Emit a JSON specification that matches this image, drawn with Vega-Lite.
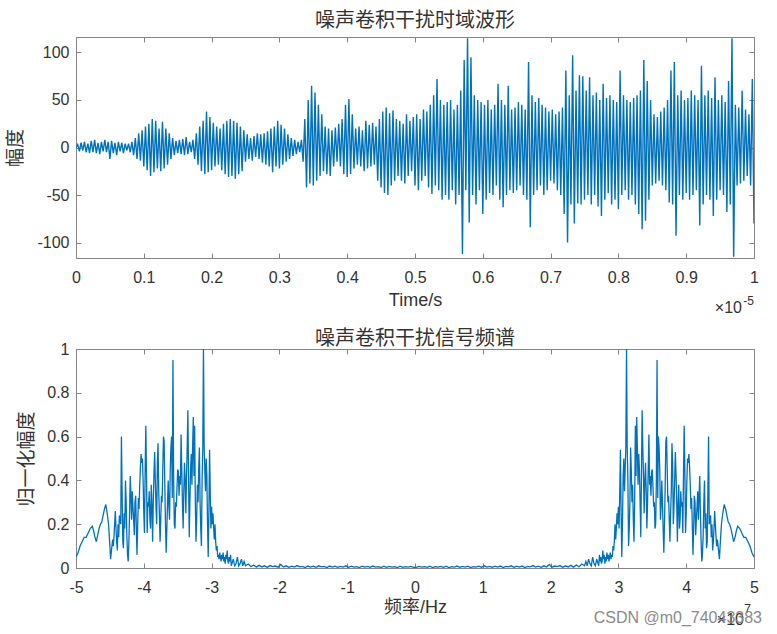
{
"$schema":"https://vega.github.io/schema/vega-lite/v6.json",
"autosize":{"type":"pad"},
"padding":{"left":6,"top":10,"right":5,"bottom":5},
"background":"white",
"bounds":"flush",
"spacing":91,
"config":{
 "font":"Liberation Sans, Noto Sans CJK SC",
 "view":{"stroke":"#858585","strokeWidth":1},
 "axis":{"grid":false,"domain":false,"tickColor":"#858585","tickSize":-5,"labelFontSize":16,"labelColor":"#333333","labelFont":"Liberation Sans","titleFontSize":18,"titleColor":"#333333","titleFontWeight":"normal","labelFlush":false,"labelOverlap":false},
 "title":{"fontSize":20,"font":"Noto Sans CJK SC","fontWeight":"normal","color":"#333333","anchor":"middle","offset":6}
},
"datasets":{
"wave":[
{"t":0,"v":0},{"t":0.0025,"v":3},{"t":0.005,"v":-4},{"t":0.0075,"v":5},{"t":0.01,"v":-3},{"t":0.0125,"v":6},{"t":0.015,"v":-5},{"t":0.0175,"v":4},{"t":0.02,"v":-6},{"t":0.0225,"v":7},
{"t":0.025,"v":-5},{"t":0.0275,"v":8},{"t":0.03,"v":-6},{"t":0.0325,"v":5},{"t":0.035,"v":-7},{"t":0.0375,"v":6},{"t":0.04,"v":-4},{"t":0.0425,"v":8},{"t":0.045,"v":-5},{"t":0.0475,"v":6},
{"t":0.05,"v":-12},{"t":0.0525,"v":7},{"t":0.055,"v":-6},{"t":0.0575,"v":5},{"t":0.06,"v":-8},{"t":0.0625,"v":6},{"t":0.065,"v":-4},{"t":0.0675,"v":5},{"t":0.07,"v":-6},{"t":0.0725,"v":4},
{"t":0.075,"v":-3},{"t":0.0775,"v":4},{"t":0.08,"v":-5},{"t":0.0825,"v":6},{"t":0.085,"v":-8},{"t":0.0875,"v":10},{"t":0.09,"v":-12},{"t":0.0925,"v":15},{"t":0.095,"v":-14},{"t":0.0975,"v":18},
{"t":0.1,"v":-20},{"t":0.1025,"v":22},{"t":0.105,"v":-24},{"t":0.1075,"v":25},{"t":0.11,"v":-30},{"t":0.1125,"v":30},{"t":0.115,"v":-26},{"t":0.1175,"v":28},{"t":0.12,"v":-22},{"t":0.1225,"v":20},
{"t":0.125,"v":-25},{"t":0.1275,"v":27},{"t":0.13,"v":-22},{"t":0.1325,"v":20},{"t":0.135,"v":-18},{"t":0.1375,"v":15},{"t":0.14,"v":-12},{"t":0.1425,"v":10},{"t":0.145,"v":-8},{"t":0.1475,"v":7},
{"t":0.15,"v":-6},{"t":0.1525,"v":8},{"t":0.155,"v":-7},{"t":0.1575,"v":9},{"t":0.16,"v":-8},{"t":0.1625,"v":11},{"t":0.165,"v":-7},{"t":0.1675,"v":6},{"t":0.17,"v":-5},{"t":0.1725,"v":8},
{"t":0.175,"v":-12},{"t":0.1775,"v":15},{"t":0.18,"v":-18},{"t":0.1825,"v":22},{"t":0.185,"v":-25},{"t":0.1875,"v":28},{"t":0.19,"v":-28},{"t":0.1925,"v":38},{"t":0.195,"v":-26},{"t":0.1975,"v":32},
{"t":0.2,"v":-24},{"t":0.2025,"v":26},{"t":0.205,"v":-20},{"t":0.2075,"v":22},{"t":0.21,"v":-18},{"t":0.2125,"v":20},{"t":0.215,"v":-24},{"t":0.2175,"v":25},{"t":0.22,"v":-28},{"t":0.2225,"v":28},
{"t":0.225,"v":-31},{"t":0.2275,"v":30},{"t":0.23,"v":-30},{"t":0.2325,"v":28},{"t":0.235,"v":-33},{"t":0.2375,"v":26},{"t":0.24,"v":-28},{"t":0.2425,"v":22},{"t":0.245,"v":-25},{"t":0.2475,"v":18},
{"t":0.25,"v":-15},{"t":0.2525,"v":14},{"t":0.255,"v":-12},{"t":0.2575,"v":10},{"t":0.26,"v":-14},{"t":0.2625,"v":12},{"t":0.265,"v":-10},{"t":0.2675,"v":15},{"t":0.27,"v":-12},{"t":0.2725,"v":14},
{"t":0.275,"v":-16},{"t":0.2775,"v":15},{"t":0.28,"v":-18},{"t":0.2825,"v":17},{"t":0.285,"v":-20},{"t":0.2875,"v":20},{"t":0.29,"v":-26},{"t":0.2925,"v":22},{"t":0.295,"v":-20},{"t":0.2975,"v":28},
{"t":0.3,"v":-22},{"t":0.3025,"v":24},{"t":0.305,"v":-18},{"t":0.3075,"v":20},{"t":0.31,"v":-15},{"t":0.3125,"v":14},{"t":0.315,"v":-12},{"t":0.3175,"v":10},{"t":0.32,"v":-9},{"t":0.3225,"v":8},
{"t":0.325,"v":-7},{"t":0.3275,"v":6},{"t":0.33,"v":-5},{"t":0.3325,"v":8},{"t":0.335,"v":-15},{"t":0.3375,"v":30},{"t":0.34,"v":-42},{"t":0.3425,"v":50},{"t":0.345,"v":-38},{"t":0.3475,"v":65},
{"t":0.35,"v":-40},{"t":0.3525,"v":58},{"t":0.355,"v":-35},{"t":0.3575,"v":45},{"t":0.36,"v":-30},{"t":0.3625,"v":35},{"t":0.365,"v":-25},{"t":0.3675,"v":22},{"t":0.37,"v":-28},{"t":0.3725,"v":20},
{"t":0.375,"v":-30},{"t":0.3775,"v":18},{"t":0.38,"v":-20},{"t":0.3825,"v":21},{"t":0.385,"v":-15},{"t":0.3875,"v":25},{"t":0.39,"v":-20},{"t":0.3925,"v":30},{"t":0.395,"v":-28},{"t":0.3975,"v":45},
{"t":0.4,"v":-31},{"t":0.4025,"v":51},{"t":0.405,"v":-28},{"t":0.4075,"v":35},{"t":0.41,"v":-22},{"t":0.4125,"v":20},{"t":0.415,"v":-18},{"t":0.4175,"v":22},{"t":0.42,"v":-20},{"t":0.4225,"v":18},
{"t":0.425,"v":-25},{"t":0.4275,"v":28},{"t":0.43,"v":-22},{"t":0.4325,"v":24},{"t":0.435,"v":-20},{"t":0.4375,"v":26},{"t":0.44,"v":-18},{"t":0.4425,"v":22},{"t":0.445,"v":-35},{"t":0.4475,"v":30},
{"t":0.45,"v":-42},{"t":0.4525,"v":38},{"t":0.455,"v":-48},{"t":0.4575,"v":42},{"t":0.46,"v":-50},{"t":0.4625,"v":36},{"t":0.465,"v":-40},{"t":0.4675,"v":39},{"t":0.47,"v":-35},{"t":0.4725,"v":30},
{"t":0.475,"v":-30},{"t":0.4775,"v":28},{"t":0.48,"v":-35},{"t":0.4825,"v":25},{"t":0.485,"v":-38},{"t":0.4875,"v":35},{"t":0.49,"v":-30},{"t":0.4925,"v":28},{"t":0.495,"v":-25},{"t":0.4975,"v":32},
{"t":0.5,"v":-40},{"t":0.5025,"v":35},{"t":0.505,"v":-45},{"t":0.5075,"v":30},{"t":0.51,"v":-35},{"t":0.5125,"v":40},{"t":0.515,"v":-30},{"t":0.5175,"v":38},{"t":0.52,"v":-42},{"t":0.5225,"v":45},
{"t":0.525,"v":-49},{"t":0.5275,"v":55},{"t":0.53,"v":-40},{"t":0.5325,"v":72},{"t":0.535,"v":-45},{"t":0.5375,"v":50},{"t":0.54,"v":-55},{"t":0.5425,"v":45},{"t":0.545,"v":-50},{"t":0.5475,"v":48},
{"t":0.55,"v":-55},{"t":0.5525,"v":50},{"t":0.555,"v":-45},{"t":0.5575,"v":40},{"t":0.56,"v":-60},{"t":0.5625,"v":45},{"t":0.565,"v":-50},{"t":0.5675,"v":60},{"t":0.57,"v":-112},{"t":0.5725,"v":92},
{"t":0.575,"v":-45},{"t":0.5775,"v":115},{"t":0.58,"v":-79},{"t":0.5825,"v":95},{"t":0.585,"v":-50},{"t":0.5875,"v":55},{"t":0.59,"v":-60},{"t":0.5925,"v":50},{"t":0.595,"v":-45},{"t":0.5975,"v":48},
{"t":0.6,"v":-70},{"t":0.6025,"v":45},{"t":0.605,"v":-55},{"t":0.6075,"v":50},{"t":0.61,"v":-48},{"t":0.6125,"v":40},{"t":0.615,"v":-50},{"t":0.6175,"v":45},{"t":0.62,"v":-40},{"t":0.6225,"v":67},
{"t":0.625,"v":-55},{"t":0.6275,"v":50},{"t":0.63,"v":-63},{"t":0.6325,"v":45},{"t":0.635,"v":-50},{"t":0.6375,"v":65},{"t":0.64,"v":-45},{"t":0.6425,"v":40},{"t":0.645,"v":-48},{"t":0.6475,"v":42},
{"t":0.65,"v":-45},{"t":0.6525,"v":48},{"t":0.655,"v":-40},{"t":0.6575,"v":45},{"t":0.66,"v":-50},{"t":0.6625,"v":40},{"t":0.665,"v":-55},{"t":0.6675,"v":90},{"t":0.67,"v":-84},{"t":0.6725,"v":55},
{"t":0.675,"v":-50},{"t":0.6775,"v":48},{"t":0.68,"v":-45},{"t":0.6825,"v":52},{"t":0.685,"v":-40},{"t":0.6875,"v":45},{"t":0.69,"v":-50},{"t":0.6925,"v":42},{"t":0.695,"v":-45},{"t":0.6975,"v":38},
{"t":0.7,"v":-35},{"t":0.7025,"v":40},{"t":0.705,"v":-38},{"t":0.7075,"v":35},{"t":0.71,"v":-45},{"t":0.7125,"v":38},{"t":0.715,"v":-50},{"t":0.7175,"v":42},{"t":0.72,"v":-70},{"t":0.7225,"v":81},
{"t":0.725,"v":-100},{"t":0.7275,"v":55},{"t":0.73,"v":-60},{"t":0.7325,"v":97},{"t":0.735,"v":-80},{"t":0.7375,"v":60},{"t":0.74,"v":-59},{"t":0.7425,"v":76},{"t":0.745,"v":-60},{"t":0.7475,"v":75},
{"t":0.75,"v":-55},{"t":0.7525,"v":60},{"t":0.755,"v":-50},{"t":0.7575,"v":74},{"t":0.76,"v":-60},{"t":0.7625,"v":55},{"t":0.765,"v":-50},{"t":0.7675,"v":58},{"t":0.77,"v":-62},{"t":0.7725,"v":50},
{"t":0.775,"v":-72},{"t":0.7775,"v":67},{"t":0.78,"v":-55},{"t":0.7825,"v":52},{"t":0.785,"v":-48},{"t":0.7875,"v":55},{"t":0.79,"v":-60},{"t":0.7925,"v":50},{"t":0.795,"v":-55},{"t":0.7975,"v":48},
{"t":0.8,"v":-65},{"t":0.8025,"v":81},{"t":0.805,"v":-50},{"t":0.8075,"v":55},{"t":0.81,"v":-45},{"t":0.8125,"v":50},{"t":0.815,"v":-55},{"t":0.8175,"v":48},{"t":0.82,"v":-50},{"t":0.8225,"v":52},
{"t":0.825,"v":-60},{"t":0.8275,"v":55},{"t":0.83,"v":-70},{"t":0.8325,"v":60},{"t":0.835,"v":-86},{"t":0.8375,"v":92},{"t":0.84,"v":-77},{"t":0.8425,"v":70},{"t":0.845,"v":-55},{"t":0.8475,"v":50},
{"t":0.85,"v":-40},{"t":0.8525,"v":35},{"t":0.855,"v":-38},{"t":0.8575,"v":32},{"t":0.86,"v":-35},{"t":0.8625,"v":38},{"t":0.865,"v":-40},{"t":0.8675,"v":42},{"t":0.87,"v":-45},{"t":0.8725,"v":50},
{"t":0.875,"v":-58},{"t":0.8775,"v":81},{"t":0.88,"v":-60},{"t":0.8825,"v":90},{"t":0.885,"v":-93},{"t":0.8875,"v":55},{"t":0.89,"v":-50},{"t":0.8925,"v":60},{"t":0.895,"v":-55},{"t":0.8975,"v":50},
{"t":0.9,"v":-48},{"t":0.9025,"v":52},{"t":0.905,"v":-55},{"t":0.9075,"v":60},{"t":0.91,"v":-50},{"t":0.9125,"v":55},{"t":0.915,"v":-45},{"t":0.9175,"v":50},{"t":0.92,"v":-82},{"t":0.9225,"v":86},
{"t":0.925,"v":-60},{"t":0.9275,"v":55},{"t":0.93,"v":-50},{"t":0.9325,"v":60},{"t":0.935,"v":-55},{"t":0.9375,"v":52},{"t":0.94,"v":-72},{"t":0.9425,"v":74},{"t":0.945,"v":-55},{"t":0.9475,"v":50},
{"t":0.95,"v":-45},{"t":0.9525,"v":55},{"t":0.955,"v":-50},{"t":0.9575,"v":48},{"t":0.96,"v":-68},{"t":0.9625,"v":70},{"t":0.965,"v":-60},{"t":0.9675,"v":115},{"t":0.97,"v":-115},{"t":0.9725,"v":45},
{"t":0.975,"v":-40},{"t":0.9775,"v":42},{"t":0.98,"v":-38},{"t":0.9825,"v":60},{"t":0.985,"v":-35},{"t":0.9875,"v":40},{"t":0.99,"v":-30},{"t":0.9925,"v":35},{"t":0.995,"v":-40},{"t":0.9975,"v":72},
{"t":1,"v":-80}
],
"spec":[
{"f":-5,"a":0.05},{"f":-4.97,"a":0.07},{"f":-4.94,"a":0.1},{"f":-4.91,"a":0.12},{"f":-4.88,"a":0.14},{"f":-4.85,"a":0.14},{"f":-4.82,"a":0.16},{"f":-4.79,"a":0.18},{"f":-4.76,"a":0.19},{"f":-4.74,"a":0.17},
{"f":-4.72,"a":0.14},{"f":-4.7,"a":0.12},{"f":-4.68,"a":0.15},{"f":-4.66,"a":0.18},{"f":-4.64,"a":0.2},{"f":-4.62,"a":0.21},{"f":-4.6,"a":0.24},{"f":-4.58,"a":0.27},{"f":-4.56,"a":0.29},{"f":-4.54,"a":0.25},
{"f":-4.52,"a":0.2},{"f":-4.5,"a":0.1},{"f":-4.49,"a":0.04},{"f":-4.48,"a":0.07},{"f":-4.46,"a":0.13},{"f":-4.45,"a":0.1},{"f":-4.44,"a":0.14},{"f":-4.42,"a":0.26},{"f":-4.41,"a":0.18},{"f":-4.4,"a":0.12},
{"f":-4.39,"a":0.08},{"f":-4.38,"a":0.2},{"f":-4.37,"a":0.14},{"f":-4.36,"a":0.24},{"f":-4.35,"a":0.22},{"f":-4.34,"a":0.2},{"f":-4.33,"a":0.6},{"f":-4.32,"a":0.35},{"f":-4.31,"a":0.12},{"f":-4.3,"a":0.09},
{"f":-4.29,"a":0.25},{"f":-4.28,"a":0.18},{"f":-4.27,"a":0.4},{"f":-4.26,"a":0.3},{"f":-4.25,"a":0.15},{"f":-4.24,"a":0.06},{"f":-4.23,"a":0.03},{"f":-4.22,"a":0.12},{"f":-4.21,"a":0.25},{"f":-4.2,"a":0.42},
{"f":-4.19,"a":0.33},{"f":-4.18,"a":0.22},{"f":-4.17,"a":0.35},{"f":-4.16,"a":0.28},{"f":-4.15,"a":0.22},{"f":-4.14,"a":0.15},{"f":-4.13,"a":0.3},{"f":-4.12,"a":0.33},{"f":-4.11,"a":0.18},{"f":-4.1,"a":0.06},
{"f":-4.09,"a":0.2},{"f":-4.08,"a":0.32},{"f":-4.07,"a":0.27},{"f":-4.06,"a":0.38},{"f":-4.05,"a":0.46},{"f":-4.04,"a":0.52},{"f":-4.03,"a":0.48},{"f":-4.02,"a":0.5},{"f":-4.01,"a":0.4},{"f":-4,"a":0.25},
{"f":-3.99,"a":0.16},{"f":-3.98,"a":0.45},{"f":-3.97,"a":0.65},{"f":-3.96,"a":0.42},{"f":-3.95,"a":0.16},{"f":-3.94,"a":0.3},{"f":-3.93,"a":0.28},{"f":-3.92,"a":0.35},{"f":-3.91,"a":0.22},{"f":-3.9,"a":0.18},
{"f":-3.89,"a":0.38},{"f":-3.88,"a":0.29},{"f":-3.87,"a":0.12},{"f":-3.86,"a":0.3},{"f":-3.85,"a":0.43},{"f":-3.84,"a":0.53},{"f":-3.83,"a":0.4},{"f":-3.82,"a":0.28},{"f":-3.81,"a":0.2},{"f":-3.8,"a":0.48},
{"f":-3.79,"a":0.57},{"f":-3.78,"a":0.35},{"f":-3.77,"a":0.25},{"f":-3.76,"a":0.12},{"f":-3.75,"a":0.22},{"f":-3.74,"a":0.33},{"f":-3.73,"a":0.3},{"f":-3.72,"a":0.45},{"f":-3.71,"a":0.6},{"f":-3.7,"a":0.58},
{"f":-3.69,"a":0.38},{"f":-3.68,"a":0.2},{"f":-3.67,"a":0.07},{"f":-3.66,"a":0.18},{"f":-3.65,"a":0.3},{"f":-3.64,"a":0.4},{"f":-3.63,"a":0.28},{"f":-3.62,"a":0.22},{"f":-3.61,"a":0.45},{"f":-3.6,"a":0.55},
{"f":-3.59,"a":0.6},{"f":-3.58,"a":0.32},{"f":-3.57,"a":0.95},{"f":-3.56,"a":0.4},{"f":-3.55,"a":0.2},{"f":-3.54,"a":0.18},{"f":-3.53,"a":0.3},{"f":-3.52,"a":0.28},{"f":-3.51,"a":0.37},{"f":-3.5,"a":0.45},
{"f":-3.49,"a":0.44},{"f":-3.48,"a":0.33},{"f":-3.47,"a":0.42},{"f":-3.46,"a":0.38},{"f":-3.45,"a":0.61},{"f":-3.44,"a":0.45},{"f":-3.43,"a":0.3},{"f":-3.42,"a":0.18},{"f":-3.41,"a":0.35},{"f":-3.4,"a":0.48},
{"f":-3.39,"a":0.4},{"f":-3.38,"a":0.25},{"f":-3.37,"a":0.42},{"f":-3.36,"a":0.55},{"f":-3.35,"a":0.72},{"f":-3.34,"a":0.42},{"f":-3.33,"a":0.14},{"f":-3.32,"a":0.3},{"f":-3.31,"a":0.45},{"f":-3.3,"a":0.52},
{"f":-3.29,"a":0.38},{"f":-3.28,"a":0.55},{"f":-3.27,"a":0.69},{"f":-3.26,"a":0.42},{"f":-3.25,"a":0.65},{"f":-3.24,"a":0.3},{"f":-3.23,"a":0.12},{"f":-3.22,"a":0.22},{"f":-3.21,"a":0.38},{"f":-3.2,"a":0.3},
{"f":-3.19,"a":0.45},{"f":-3.18,"a":0.55},{"f":-3.17,"a":0.3},{"f":-3.16,"a":0.18},{"f":-3.15,"a":0.1},{"f":-3.14,"a":0.4},{"f":-3.13,"a":0.55},{"f":-3.12,"a":1},{"f":-3.11,"a":0.56},{"f":-3.1,"a":0.45},
{"f":-3.09,"a":0.35},{"f":-3.08,"a":0.5},{"f":-3.07,"a":0.42},{"f":-3.06,"a":0.2},{"f":-3.05,"a":0.05},{"f":-3.04,"a":0.25},{"f":-3.03,"a":0.54},{"f":-3.02,"a":0.35},{"f":-3.01,"a":0.18},{"f":-3,"a":0.28},
{"f":-2.99,"a":0.2},{"f":-2.98,"a":0.25},{"f":-2.97,"a":0.18},{"f":-2.96,"a":0.13},{"f":-2.95,"a":0.2},{"f":-2.94,"a":0.12},{"f":-2.93,"a":0.08},{"f":-2.92,"a":0.1},{"f":-2.91,"a":0.05},{"f":-2.9,"a":0.06},
{"f":-2.89,"a":0.04},{"f":-2.88,"a":0.07},{"f":-2.87,"a":0.05},{"f":-2.86,"a":0.03},{"f":-2.85,"a":0.06},{"f":-2.84,"a":0.04},{"f":-2.83,"a":0.07},{"f":-2.82,"a":0.03},{"f":-2.81,"a":0.05},{"f":-2.8,"a":0.02},
{"f":-2.79,"a":0.06},{"f":-2.78,"a":0.04},{"f":-2.77,"a":0.08},{"f":-2.76,"a":0.03},{"f":-2.75,"a":0.02},{"f":-2.74,"a":0.05},{"f":-2.73,"a":0.03},{"f":-2.72,"a":0.06},{"f":-2.71,"a":0.01},{"f":-2.7,"a":0.02},
{"f":-2.68,"a":0.04},{"f":-2.66,"a":0.01},{"f":-2.64,"a":0.02},{"f":-2.62,"a":0.05},{"f":-2.6,"a":0.01},{"f":-2.58,"a":0.02},{"f":-2.56,"a":0.04},{"f":-2.54,"a":0.01},{"f":-2.52,"a":0.03},{"f":-2.5,"a":0.01},
{"f":-2.46,"a":0.018},{"f":-2.42,"a":0.006},{"f":-2.38,"a":0.014},{"f":-2.34,"a":0.004},{"f":-2.3,"a":0.012},{"f":-2.26,"a":0.005},{"f":-2.22,"a":0.01},{"f":-2.18,"a":0.003},{"f":-2.14,"a":0.011},{"f":-2.1,"a":0.006},
{"f":-2.06,"a":0.009},{"f":-2.02,"a":0.004},{"f":-1.98,"a":0.016},{"f":-1.94,"a":0.005},{"f":-1.9,"a":0.01},{"f":-1.86,"a":0.003},{"f":-1.82,"a":0.008},{"f":-1.78,"a":0.004},{"f":-1.74,"a":0.011},{"f":-1.7,"a":0.005},
{"f":-1.66,"a":0.007},{"f":-1.62,"a":0.002},{"f":-1.58,"a":0.009},{"f":-1.54,"a":0.004},{"f":-1.5,"a":0.008},{"f":-1.46,"a":0.003},{"f":-1.42,"a":0.01},{"f":-1.38,"a":0.005},{"f":-1.34,"a":0.007},{"f":-1.3,"a":0.002},
{"f":-1.26,"a":0.009},{"f":-1.22,"a":0.004},{"f":-1.18,"a":0.008},{"f":-1.14,"a":0.003},{"f":-1.1,"a":0.007},{"f":-1.06,"a":0.004},{"f":-1.02,"a":0.01},{"f":-0.98,"a":0.003},{"f":-0.94,"a":0.008},{"f":-0.9,"a":0.004},
{"f":-0.86,"a":0.006},{"f":-0.82,"a":0.002},{"f":-0.78,"a":0.008},{"f":-0.74,"a":0.004},{"f":-0.7,"a":0.007},{"f":-0.66,"a":0.003},{"f":-0.62,"a":0.009},{"f":-0.58,"a":0.004},{"f":-0.54,"a":0.006},{"f":-0.5,"a":0.002},
{"f":-0.46,"a":0.008},{"f":-0.42,"a":0.003},{"f":-0.38,"a":0.007},{"f":-0.34,"a":0.004},{"f":-0.3,"a":0.006},{"f":-0.26,"a":0.002},{"f":-0.22,"a":0.008},{"f":-0.18,"a":0.003},{"f":-0.14,"a":0.006},{"f":-0.1,"a":0.004},
{"f":-0.06,"a":0.007},{"f":-0.02,"a":0.003},
{"f":0.02,"a":0.003},{"f":0.06,"a":0.007},{"f":0.1,"a":0.004},{"f":0.14,"a":0.006},{"f":0.18,"a":0.003},{"f":0.22,"a":0.008},{"f":0.26,"a":0.002},{"f":0.3,"a":0.006},{"f":0.34,"a":0.004},{"f":0.38,"a":0.007},
{"f":0.42,"a":0.003},{"f":0.46,"a":0.008},{"f":0.5,"a":0.002},{"f":0.54,"a":0.006},{"f":0.58,"a":0.004},{"f":0.62,"a":0.009},{"f":0.66,"a":0.003},{"f":0.7,"a":0.007},{"f":0.74,"a":0.004},{"f":0.78,"a":0.008},
{"f":0.82,"a":0.002},{"f":0.86,"a":0.006},{"f":0.9,"a":0.004},{"f":0.94,"a":0.008},{"f":0.98,"a":0.003},{"f":1.02,"a":0.01},{"f":1.06,"a":0.004},{"f":1.1,"a":0.007},{"f":1.14,"a":0.003},{"f":1.18,"a":0.008},
{"f":1.22,"a":0.004},{"f":1.26,"a":0.009},{"f":1.3,"a":0.002},{"f":1.34,"a":0.007},{"f":1.38,"a":0.005},{"f":1.42,"a":0.01},{"f":1.46,"a":0.003},{"f":1.5,"a":0.008},{"f":1.54,"a":0.004},{"f":1.58,"a":0.009},
{"f":1.62,"a":0.002},{"f":1.66,"a":0.007},{"f":1.7,"a":0.005},{"f":1.74,"a":0.011},{"f":1.78,"a":0.004},{"f":1.82,"a":0.008},{"f":1.86,"a":0.003},{"f":1.9,"a":0.01},{"f":1.94,"a":0.005},{"f":1.98,"a":0.016},
{"f":2.02,"a":0.004},{"f":2.06,"a":0.009},{"f":2.1,"a":0.006},{"f":2.14,"a":0.011},{"f":2.18,"a":0.003},{"f":2.22,"a":0.01},{"f":2.26,"a":0.005},{"f":2.3,"a":0.012},{"f":2.34,"a":0.004},{"f":2.38,"a":0.014},
{"f":2.42,"a":0.006},{"f":2.46,"a":0.018},
{"f":2.5,"a":0.01},{"f":2.52,"a":0.03},{"f":2.54,"a":0.01},{"f":2.56,"a":0.04},{"f":2.58,"a":0.02},{"f":2.6,"a":0.01},{"f":2.62,"a":0.05},{"f":2.64,"a":0.02},{"f":2.66,"a":0.01},{"f":2.68,"a":0.04},
{"f":2.7,"a":0.02},{"f":2.71,"a":0.01},{"f":2.72,"a":0.06},{"f":2.73,"a":0.03},{"f":2.74,"a":0.05},{"f":2.75,"a":0.02},{"f":2.76,"a":0.03},{"f":2.77,"a":0.08},{"f":2.78,"a":0.04},{"f":2.79,"a":0.06},
{"f":2.8,"a":0.02},{"f":2.81,"a":0.05},{"f":2.82,"a":0.03},{"f":2.83,"a":0.07},{"f":2.84,"a":0.04},{"f":2.85,"a":0.06},{"f":2.86,"a":0.03},{"f":2.87,"a":0.05},{"f":2.88,"a":0.07},{"f":2.89,"a":0.04},
{"f":2.9,"a":0.06},{"f":2.91,"a":0.05},{"f":2.92,"a":0.1},{"f":2.93,"a":0.08},{"f":2.94,"a":0.12},{"f":2.95,"a":0.2},{"f":2.96,"a":0.13},{"f":2.97,"a":0.18},{"f":2.98,"a":0.25},{"f":2.99,"a":0.2},
{"f":3,"a":0.28},{"f":3.01,"a":0.18},{"f":3.02,"a":0.35},{"f":3.03,"a":0.54},{"f":3.04,"a":0.25},{"f":3.05,"a":0.05},{"f":3.06,"a":0.2},{"f":3.07,"a":0.42},{"f":3.08,"a":0.5},{"f":3.09,"a":0.35},
{"f":3.1,"a":0.45},{"f":3.11,"a":0.56},{"f":3.12,"a":1},{"f":3.13,"a":0.55},{"f":3.14,"a":0.4},{"f":3.15,"a":0.1},{"f":3.16,"a":0.18},{"f":3.17,"a":0.3},{"f":3.18,"a":0.55},{"f":3.19,"a":0.45},
{"f":3.2,"a":0.3},{"f":3.21,"a":0.38},{"f":3.22,"a":0.22},{"f":3.23,"a":0.12},{"f":3.24,"a":0.3},{"f":3.25,"a":0.65},{"f":3.26,"a":0.42},{"f":3.27,"a":0.69},{"f":3.28,"a":0.55},{"f":3.29,"a":0.38},
{"f":3.3,"a":0.52},{"f":3.31,"a":0.45},{"f":3.32,"a":0.3},{"f":3.33,"a":0.14},{"f":3.34,"a":0.42},{"f":3.35,"a":0.72},{"f":3.36,"a":0.55},{"f":3.37,"a":0.42},{"f":3.38,"a":0.25},{"f":3.39,"a":0.4},
{"f":3.4,"a":0.48},{"f":3.41,"a":0.35},{"f":3.42,"a":0.18},{"f":3.43,"a":0.3},{"f":3.44,"a":0.45},{"f":3.45,"a":0.61},{"f":3.46,"a":0.38},{"f":3.47,"a":0.42},{"f":3.48,"a":0.33},{"f":3.49,"a":0.44},
{"f":3.5,"a":0.45},{"f":3.51,"a":0.37},{"f":3.52,"a":0.28},{"f":3.53,"a":0.3},{"f":3.54,"a":0.18},{"f":3.55,"a":0.2},{"f":3.56,"a":0.4},{"f":3.57,"a":0.95},{"f":3.58,"a":0.32},{"f":3.59,"a":0.6},
{"f":3.6,"a":0.55},{"f":3.61,"a":0.45},{"f":3.62,"a":0.22},{"f":3.63,"a":0.28},{"f":3.64,"a":0.4},{"f":3.65,"a":0.3},{"f":3.66,"a":0.18},{"f":3.67,"a":0.07},{"f":3.68,"a":0.2},{"f":3.69,"a":0.38},
{"f":3.7,"a":0.58},{"f":3.71,"a":0.6},{"f":3.72,"a":0.45},{"f":3.73,"a":0.3},{"f":3.74,"a":0.33},{"f":3.75,"a":0.22},{"f":3.76,"a":0.12},{"f":3.77,"a":0.25},{"f":3.78,"a":0.35},{"f":3.79,"a":0.57},
{"f":3.8,"a":0.48},{"f":3.81,"a":0.2},{"f":3.82,"a":0.28},{"f":3.83,"a":0.4},{"f":3.84,"a":0.53},{"f":3.85,"a":0.43},{"f":3.86,"a":0.3},{"f":3.87,"a":0.12},{"f":3.88,"a":0.29},{"f":3.89,"a":0.38},
{"f":3.9,"a":0.18},{"f":3.91,"a":0.22},{"f":3.92,"a":0.35},{"f":3.93,"a":0.28},{"f":3.94,"a":0.3},{"f":3.95,"a":0.16},{"f":3.96,"a":0.42},{"f":3.97,"a":0.65},{"f":3.98,"a":0.45},{"f":3.99,"a":0.16},
{"f":4,"a":0.25},{"f":4.01,"a":0.4},{"f":4.02,"a":0.5},{"f":4.03,"a":0.48},{"f":4.04,"a":0.52},{"f":4.05,"a":0.46},{"f":4.06,"a":0.38},{"f":4.07,"a":0.27},{"f":4.08,"a":0.32},{"f":4.09,"a":0.2},
{"f":4.1,"a":0.06},{"f":4.11,"a":0.18},{"f":4.12,"a":0.33},{"f":4.13,"a":0.3},{"f":4.14,"a":0.15},{"f":4.15,"a":0.22},{"f":4.16,"a":0.28},{"f":4.17,"a":0.35},{"f":4.18,"a":0.22},{"f":4.19,"a":0.33},
{"f":4.2,"a":0.42},{"f":4.21,"a":0.25},{"f":4.22,"a":0.12},{"f":4.23,"a":0.03},{"f":4.24,"a":0.06},{"f":4.25,"a":0.15},{"f":4.26,"a":0.3},{"f":4.27,"a":0.4},{"f":4.28,"a":0.18},{"f":4.29,"a":0.25},
{"f":4.3,"a":0.09},{"f":4.31,"a":0.12},{"f":4.32,"a":0.35},{"f":4.33,"a":0.6},{"f":4.34,"a":0.2},{"f":4.35,"a":0.22},{"f":4.36,"a":0.24},{"f":4.37,"a":0.14},{"f":4.38,"a":0.2},{"f":4.39,"a":0.08},
{"f":4.4,"a":0.12},{"f":4.41,"a":0.18},{"f":4.42,"a":0.26},{"f":4.44,"a":0.14},{"f":4.45,"a":0.1},{"f":4.46,"a":0.13},{"f":4.48,"a":0.07},{"f":4.49,"a":0.04},{"f":4.5,"a":0.1},{"f":4.52,"a":0.2},
{"f":4.54,"a":0.25},{"f":4.56,"a":0.29},{"f":4.58,"a":0.27},{"f":4.6,"a":0.24},{"f":4.62,"a":0.21},{"f":4.64,"a":0.2},{"f":4.66,"a":0.18},{"f":4.68,"a":0.15},{"f":4.7,"a":0.12},{"f":4.72,"a":0.14},
{"f":4.74,"a":0.17},{"f":4.76,"a":0.19},{"f":4.79,"a":0.18},{"f":4.82,"a":0.16},{"f":4.85,"a":0.14},{"f":4.88,"a":0.14},{"f":4.91,"a":0.12},{"f":4.94,"a":0.1},{"f":4.97,"a":0.07},{"f":5,"a":0.05}
]
},
"vconcat":[
{
 "width":678,"height":221,
 "title":{"text":"噪声卷积干扰时域波形"},
 "layer":[
  {"data":{"name":"wave"},"mark":{"type":"line","color":"#0072BD","strokeWidth":1.4,"clip":true},
   "encoding":{
    "x":{"field":"t","type":"quantitative","scale":{"domain":[0,1],"nice":false,"zero":false},
      "axis":{"orient":"bottom","values":[0,0.1,0.2,0.3,0.4,0.5,0.6,0.7,0.8,0.9,1],"labelExpr":"toString(datum.value)","labelPadding":16,"title":"Time/s","titlePadding":6}},
    "y":{"field":"v","type":"quantitative","scale":{"domain":[-116.3,116.3],"nice":false,"zero":false},
      "axis":{"orient":"left","values":[-100,-50,0,50,100],"labelExpr":"toString(datum.value)","labelPadding":12,"title":"幅度","titleFontSize":19,"titlePadding":11}}
   }},
  {"data":{"values":[{}]},"mark":{"type":"rule","opacity":0},
   "encoding":{
    "x":{"datum":0,"type":"quantitative","axis":{"orient":"top","values":[0,0.1,0.2,0.3,0.4,0.5,0.6,0.7,0.8,0.9,1],"labels":false,"title":null}},
    "y":{"datum":0,"type":"quantitative","axis":{"orient":"right","values":[-100,-50,0,50,100],"labels":false,"title":null}}
   }},
  {"data":{"values":[{"s":"×10"}]},"mark":{"type":"text","align":"right","baseline":"alphabetic","fontSize":16,"color":"#333333","dx":-12,"dy":55},
   "encoding":{"x":{"datum":1,"type":"quantitative","axis":null},"y":{"datum":-116.3,"type":"quantitative","axis":null},"text":{"field":"s"}}},
  {"data":{"values":[{"s":"-5"}]},"mark":{"type":"text","align":"right","baseline":"alphabetic","fontSize":12,"color":"#333333","dx":0,"dy":47},
   "encoding":{"x":{"datum":1,"type":"quantitative","axis":null},"y":{"datum":-116.3,"type":"quantitative","axis":null},"text":{"field":"s"}}}
 ],
 "resolve":{"axis":{"x":"independent","y":"independent"}}
},
{
 "width":678,"height":219,
 "title":{"text":"噪声卷积干扰信号频谱","offset":-8},
 "layer":[
  {"data":{"name":"spec"},"mark":{"type":"line","color":"#0072BD","strokeWidth":1.3,"clip":true},
   "encoding":{
    "x":{"field":"f","type":"quantitative","scale":{"domain":[-5,5],"nice":false,"zero":false},
      "axis":{"orient":"bottom","values":[-5,-4,-3,-2,-1,0,1,2,3,4,5],"labelExpr":"toString(datum.value)","labelPadding":16,"title":"频率/Hz","titlePadding":3}},
    "y":{"field":"a","type":"quantitative","scale":{"domain":[0,1],"nice":false},
      "axis":{"orient":"left","values":[0,0.2,0.4,0.6,0.8,1],"labelExpr":"toString(datum.value)","labelPadding":12,"title":"归一化幅度","titleFontSize":19,"titlePadding":10}}
   }},
  {"data":{"values":[{}]},"mark":{"type":"rule","opacity":0},
   "encoding":{
    "x":{"datum":0,"type":"quantitative","axis":{"orient":"top","values":[-5,-4,-3,-2,-1,0,1,2,3,4,5],"labels":false,"title":null}},
    "y":{"datum":0,"type":"quantitative","axis":{"orient":"right","values":[0,0.2,0.4,0.6,0.8,1],"labels":false,"title":null}}
   }},
  {"data":{"values":[{"s":"×10"}]},"mark":{"type":"text","align":"right","baseline":"alphabetic","fontSize":16,"color":"#333333","dx":-10,"dy":57},
   "encoding":{"x":{"datum":5,"type":"quantitative","axis":null},"y":{"datum":0,"type":"quantitative","axis":null},"text":{"field":"s"}}},
  {"data":{"values":[{"s":"7"}]},"mark":{"type":"text","align":"right","baseline":"alphabetic","fontSize":12,"color":"#333333","dx":-3,"dy":45},
   "encoding":{"x":{"datum":5,"type":"quantitative","axis":null},"y":{"datum":0,"type":"quantitative","axis":null},"text":{"field":"s"}}},
  {"data":{"values":[{"s":"CSDN @m0_74043383"}]},"mark":{"type":"text","align":"right","baseline":"alphabetic","fontSize":16,"color":"#8a8a8a","dx":8,"dy":55},
   "encoding":{"x":{"datum":5,"type":"quantitative","axis":null},"y":{"datum":0,"type":"quantitative","axis":null},"text":{"field":"s"}}}
 ],
 "resolve":{"axis":{"x":"independent","y":"independent"}}
}
]
}
